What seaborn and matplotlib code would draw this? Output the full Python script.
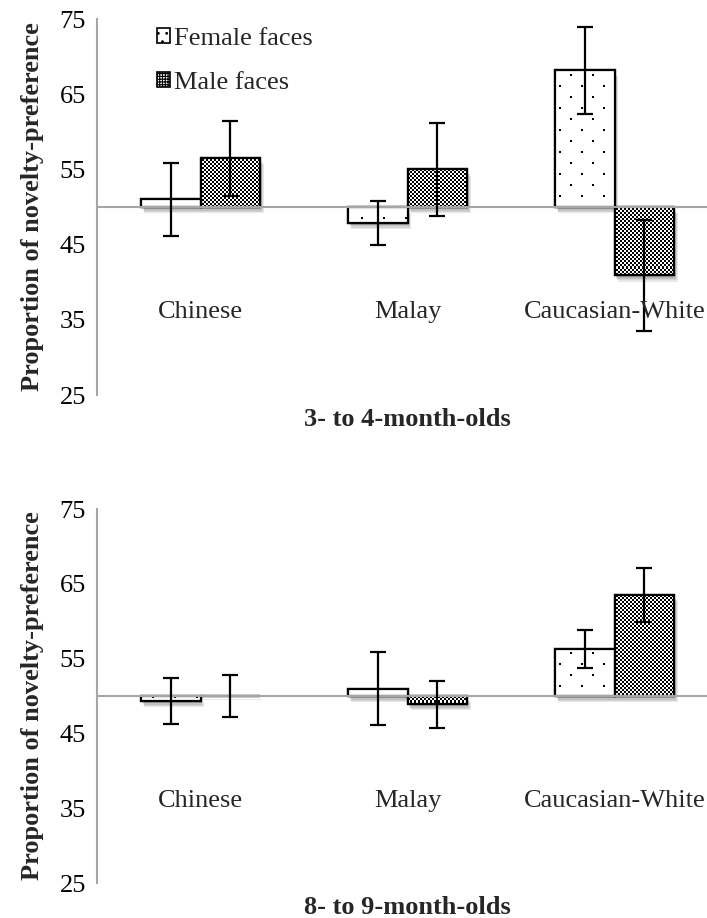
"""Novelty-preference bars by face race and face gender, two age groups"""
import numpy as np
import pandas as pd
import seaborn as sns
from matplotlib import pyplot as plt
from matplotlib import patheffects as pe
from matplotlib.patches import Patch, Rectangle

GROUPS = ["Chinese", "Malay", "Caucasian-White"]
FACES = ["Female faces", "Male faces"]
PANEL_TITLES = ["3- to 4-month-olds", "8- to 9-month-olds"]
Y_TICKS = [25, 35, 45, 55, 65, 75]
CHANCE = 50

# 3- to 4-month-olds
young_female = [51.0, 47.9, 68.2]
young_female_err = [4.8, 2.95, 5.8]
young_male = [56.5, 55.0, 40.9]
young_male_err = [5.0, 6.2, 7.4]

# 8- to 9-month-olds
old_female = [49.35, 51.0, 56.25]
old_female_err = [3.05, 4.9, 2.55]
old_male = [50.05, 48.9, 63.5]
old_male_err = [2.8, 3.15, 3.6]

W_PX, H_PX, DPI = 707, 918, 100
FONT = 19
GRAY = "#a6a6a6"


def panel_frame(female, female_err, male, male_err):
    rows = []
    for face, vals, errs in ((FACES[0], female, female_err), (FACES[1], male, male_err)):
        for g, v, e in zip(GROUPS, vals, errs):
            rows.append({"group": g, "face": face, "value": v, "err": e})
    df = pd.DataFrame(rows)
    df["dev"] = df["value"] - CHANCE
    return df


def texture(kind, h, w):
    """Pixel texture for the bars: sparse dot lattice or fine checkerboard"""
    yy, xx = np.mgrid[0:h, 0:w]
    if kind == "dots":
        row = yy // 11
        on = (yy % 11 < 2) & ((xx + (row % 2) * 11) % 22 < 2)
    else:
        on = ((yy // 2) + (xx // 2)) % 2 == 0
    img = np.full((h, w, 3), 255, dtype=np.uint8)
    img[on] = 0
    return img


def draw_panel(ax, df, title, legend=False):
    sns.barplot(
        data=df, x="group", y="dev", hue="face", order=GROUPS, hue_order=FACES,
        palette=["white", "white"], saturation=1, width=0.577, bottom=CHANCE,
        errorbar=None, edgecolor="black", linewidth=1.6, legend=False, ax=ax,
    )
    bar_sets = list(ax.containers[:2])

    pos = ax.get_position()
    h, w = int(round(pos.height * H_PX)), int(round(pos.width * W_PX))
    # soft drop shadow, faked with a few stacked offsets
    shadow = [pe.SimplePatchShadow(offset=(dx, dy), shadow_rgbFace="#444444", alpha=0.12)
              for dx, dy in ((0.8, -1.5), (1.4, -2.6), (2.0, -3.6), (2.6, -4.4))]
    shadow.append(pe.Normal())
    for bars, kind in zip(bar_sets, ["dots", "checks"]):
        tex = texture(kind, h, w)
        for bar in bars:
            bar.set_zorder(2)
            bar.set_path_effects(shadow)
            im = ax.imshow(tex, extent=(0, 1, 0, 1), transform=ax.transAxes,
                           interpolation="nearest", aspect="auto", zorder=2.2)
            im.set_clip_path(bar)
            ax.add_patch(Rectangle(bar.get_xy(), bar.get_width(), bar.get_height(),
                                   fill=False, edgecolor="black", linewidth=1.6, zorder=2.4))

    for bars, face in zip(bar_sets, FACES):
        sub = df[df["face"] == face].set_index("group").loc[GROUPS]
        xs = [b.get_x() + b.get_width() / 2 for b in bars]
        ax.errorbar(xs, sub["value"], yerr=sub["err"], fmt="none", ecolor="black",
                    elinewidth=1.6, capsize=6, capthick=1.6, zorder=3)

    for i, g in enumerate(GROUPS):
        ax.text(i, 36, g, ha="center", va="center", fontsize=FONT)

    ax.set_xlim(-0.5, 2.5)
    ax.set_ylim(25, 75)
    ax.set_yticks(Y_TICKS)
    ax.set_xticks([0.5, 1.5])
    ax.set_xticklabels([])
    ax.spines["bottom"].set_position(("data", CHANCE))
    for s in ("top", "right"):
        ax.spines[s].set_visible(False)
    for s in ("left", "bottom"):
        ax.spines[s].set_color(GRAY)
        ax.spines[s].set_linewidth(1.5)
    ax.tick_params(axis="both", direction="out", length=4.5, width=1.5, color=GRAY,
                   labelsize=FONT, labelcolor="black")
    ax.set_xlabel("")
    ax.set_ylabel("Proportion of novelty-preference", fontsize=FONT, fontweight="bold")
    ax.yaxis.set_label_coords(-0.086, 0.5)
    ax.text(0.5, -0.066, title, transform=ax.transAxes, ha="center", va="center",
            fontsize=FONT, fontweight="bold")

    if legend:
        handles = [
            Patch(facecolor="white", edgecolor="black", hatch="..", linewidth=1.2),
            Patch(facecolor="white", edgecolor="black", hatch="++++++", linewidth=1.2),
        ]
        ax.legend(handles, FACES, loc="upper left", bbox_to_anchor=(0.0966, 0.976),
                  frameon=False, fontsize=FONT, handlelength=0.5, handleheight=0.5,
                  handletextpad=0.15, labelspacing=0.83, borderpad=0, borderaxespad=0)


sns.set_style("white")
plt.rcParams["font.family"] = ["Liberation Serif", "DejaVu Serif"]
plt.rcParams["hatch.linewidth"] = 0.8

fig = plt.figure(figsize=(W_PX / DPI, H_PX / DPI), dpi=DPI)
ax_top = fig.add_axes([0.1372, 0.5697, 0.8784, 0.4096])
ax_bot = fig.add_axes([0.1372, 0.0381, 0.8784, 0.4074])

draw_panel(ax_top, panel_frame(young_female, young_female_err, young_male, young_male_err),
           PANEL_TITLES[0], legend=True)
draw_panel(ax_bot, panel_frame(old_female, old_female_err, old_male, old_male_err),
           PANEL_TITLES[1])

fig.savefig("out.png", dpi=DPI)
